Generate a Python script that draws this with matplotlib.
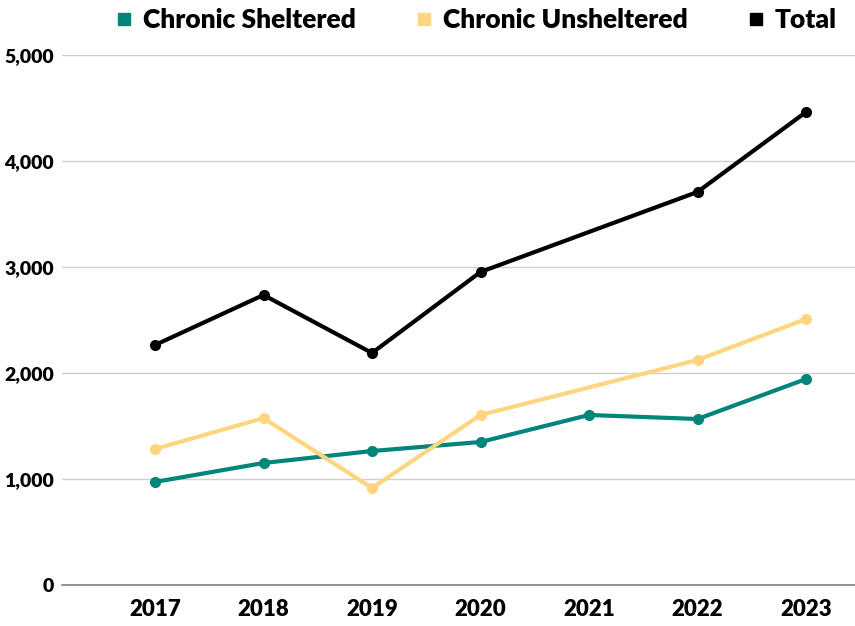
import matplotlib.pyplot as plt
import numpy as np

years = [2017, 2018, 2019, 2020, 2021, 2022, 2023]
sheltered = [972, 1151, 1264, 1349, 1604, 1566, 1943]
unsheltered = [1283, 1575, 915, 1604, np.nan, 2123, 2509]
total = [2264, 2736, 2189, 2953, np.nan, 3708, 4462]

series = [
    ("Chronic Sheltered", sheltered, "#00857c"),
    ("Chronic Unsheltered", unsheltered, "#ffd67f"),
    ("Total", total, "#000000"),
]

plt.rcParams['font.family'] = ['Lato', 'DejaVu Sans']
plt.rcParams['font.weight'] = 'heavy'

fig = plt.figure(figsize=(8.55, 6.26), dpi=100)
ax = fig.add_axes([62 / 855, 41 / 626, 1 - 62 / 855, 530 / 626])

handles = []
for name, vals, color in series:
    x = np.array(years, dtype=float)
    y = np.array(vals, dtype=float)
    ok = ~np.isnan(y)
    # line skips missing years, markers only where there is a value
    ax.plot(x[ok], y[ok], color=color, linewidth=3, marker='o', markersize=7,
            solid_capstyle='round', zorder=3)
    h, = ax.plot([], [], linestyle='none', marker='s', markersize=9, color=color, label=name)
    handles.append(h)

ax.set_xlim(2017 - 93 / 108.5, 2023 + 49 / 108.5)
ax.set_ylim(0, 5000)
ax.set_xticks(years)
ax.set_yticks(range(0, 5001, 1000))
ax.set_yticklabels([f"{v:,}" for v in range(0, 5001, 1000)])
ax.tick_params(axis='x', length=0, labelsize=16, pad=10)
ax.tick_params(axis='y', length=0, labelsize=14, pad=6)
for lab in ax.get_xticklabels() + ax.get_yticklabels():
    lab.set_fontweight('heavy')

ax.grid(axis='y', color='#d0d0d0', linewidth=1)
ax.set_axisbelow(True)
for s in ['top', 'right', 'left']:
    ax.spines[s].set_visible(False)
ax.spines['bottom'].set_color('#808080')
ax.spines['bottom'].set_linewidth(1.2)

fig.legend(handles=handles, loc='center', bbox_to_anchor=(475 / 855, 1 - 20 / 626),
           ncol=3, frameon=False, prop={'size': 19, 'weight': 'heavy'},
           handletextpad=0.3, columnspacing=2.2, handlelength=0.8)

fig.savefig("out.png", dpi=100)
